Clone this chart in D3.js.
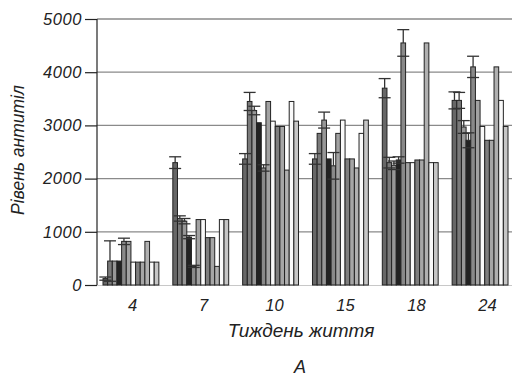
<!DOCTYPE html>
<html>
<head>
<meta charset="utf-8">
<script src="https://cdn.jsdelivr.net/npm/d3@7"></script>
<style>
  html, body { margin: 0; padding: 0; background: #fff; }
  svg { display: block; }
  text { font-family: "Liberation Sans", Arial, sans-serif; font-style: italic; fill: #222; }
</style>
</head>
<body>
<svg id="chart" width="512" height="377"></svg>
<script>
// Weeks of life (x categories)
const weeks = ["4", "7", "10", "15", "18", "24"];

// Antibody level per series, one value per week
const s0  = [120, 2300, 2370, 2370, 3700, 3470];
const s1  = [450, 1250, 3450, 2850, 2300, 3470];
const s2  = [450, 1200, 3280, 3100, 2250, 2970];
const s3  = [450,  900, 3050, 2370, 2350, 2720];
const s4  = [820,  350, 2200, 2240, 4550, 4100];
const s5  = [820, 1230, 3450, 2850, 2300, 3470];
const s6  = [430, 1230, 3080, 3100, 2300, 2980];
const s7  = [430,  890, 2980, 2370, 2350, 2720];
const s8  = [430,  890, 2980, 2370, 2350, 2720];
const s9  = [820,  350, 2160, 2200, 4550, 4100];
const s10 = [430, 1230, 3450, 2850, 2300, 3470];
const s11 = [430, 1230, 3080, 3100, 2300, 2980];

// Error margins (± value), zero where no whisker is drawn
const e0 = [ 30, 110, 100, 100, 180, 160];
const e1 = [380,  50, 170,   0, 100, 150];
const e2 = [  0,  50,  80, 150,  80, 120];
const e3 = [  0,  30,   0,   0,  60, 140];
const e4 = [ 60,  20,  60, 250, 250, 200];

const yTicks = [0, 1000, 2000, 3000, 4000, 5000];

const series = [s0, s1, s2, s3, s4, s5, s6, s7, s8, s9, s10, s11];
const errors = [e0, e1, e2, e3, e4];
const fills = ["#676767", "#7a7a7a", "#979797", "#222222", "#898989", "#a2a2a2",
               "#fafafa", "#7e7e7e", "#a6a6a6", "#b0b0b0", "#fafafa", "#c6c6c6"];

const svg = d3.select("#chart");

const y = d3.scaleLinear().domain([0, 5000]).range([285, 19]);
const x0 = d3.scaleBand().domain(weeks).range([103, 508]).paddingInner(0.2).paddingOuter(0).align(0);
const x1 = d3.scaleBand().domain(d3.range(series.length)).range([0, x0.bandwidth()]).padding(0);
const xLabel = d3.scalePoint().domain(weeks).range([132, 487]);

// horizontal grid lines
svg.append("g").selectAll("line")
  .data(yTicks.filter(d => d > 0))
  .join("line")
  .attr("x1", 97).attr("x2", 512)
  .attr("y1", d => y(d)).attr("y2", d => y(d))
  .attr("stroke", "#8a8a8a").attr("stroke-width", 1.3);

svg.append("line")
  .attr("x1", 97).attr("x2", 512).attr("y1", y(0) + 0.5).attr("y2", y(0) + 0.5)
  .attr("stroke", "#c8c8c8").attr("stroke-width", 1);

// bars
const flat = [];
weeks.forEach((w, gi) => series.forEach((s, si) => flat.push({ w, gi, si, v: s[gi] })));

svg.append("g").selectAll("rect")
  .data(flat)
  .join("rect")
  .attr("x", d => x0(d.w) + x1(d.si))
  .attr("width", x1.bandwidth())
  .attr("y", d => y(d.v))
  .attr("height", d => y(0) - y(d.v))
  .attr("fill", d => fills[d.si])
  .attr("stroke", "#222")
  .attr("stroke-width", 1);

// error whiskers
const errs = [];
errors.forEach((e, si) => weeks.forEach((w, gi) => {
  if (e[gi] > 0) errs.push({ w, si, v: series[si][gi], e: e[gi] });
}));

const eg = svg.append("g").attr("stroke", "#333").attr("stroke-width", 1.3);
errs.forEach(d => {
  const cx = x0(d.w) + x1(d.si) + x1.bandwidth() / 2;
  const top = y(d.v + d.e), bot = y(Math.max(0, d.v - d.e));
  eg.append("line").attr("x1", cx).attr("x2", cx).attr("y1", top).attr("y2", y(d.v));
  eg.append("line").attr("x1", cx - 6).attr("x2", cx + 6).attr("y1", top).attr("y2", top);
  eg.append("line").attr("x1", cx - 6).attr("x2", cx + 6).attr("y1", bot).attr("y2", bot);
});

// y axis
const yAxis = d3.axisLeft(y).tickValues(yTicks).tickSize(12).tickPadding(3).tickFormat(d3.format("d"));
const ya = svg.append("g").attr("transform", "translate(97,0)").call(yAxis);
ya.select(".domain").attr("stroke", "#222").attr("stroke-width", 1.2).attr("d", "M0,19V285");
ya.selectAll(".tick line").attr("stroke", "#222").attr("stroke-width", 1.2);
ya.selectAll(".tick text")
  .style("font-size", "16.5px").style("letter-spacing", "0.6px")
  .style("font-family", "'Liberation Sans', Arial, sans-serif").style("font-style", "italic")
  .attr("fill", "#222");

// x axis labels
const xAxis = d3.axisBottom(xLabel).tickSize(0).tickPadding(0);
const xa = svg.append("g").attr("transform", "translate(0,299)").call(xAxis);
xa.select(".domain").remove();
xa.selectAll(".tick text")
  .style("font-size", "16.5px")
  .style("font-family", "'Liberation Sans', Arial, sans-serif").style("font-style", "italic")
  .attr("fill", "#222");

// titles
svg.append("text")
  .attr("transform", "translate(24,150) rotate(-90)")
  .attr("text-anchor", "middle")
  .style("font-size", "17.5px")
  .text("Рівень антитіл");

svg.append("text")
  .attr("x", 301).attr("y", 337)
  .attr("text-anchor", "middle")
  .style("font-size", "19px")
  .text("Тиждень життя");

svg.append("text")
  .attr("x", 300).attr("y", 373)
  .attr("text-anchor", "middle")
  .style("font-size", "18px")
  .text("A");
</script>
</body>
</html>
